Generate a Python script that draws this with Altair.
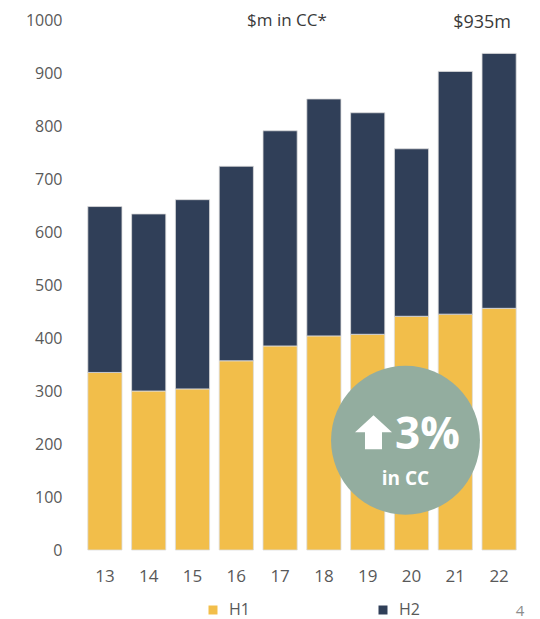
import altair as alt
import pandas as pd

years = ["13", "14", "15", "16", "17", "18", "19", "20", "21", "22"]
h1 = [335, 300, 304, 357, 385, 404, 407, 441, 445, 456]
h2 = [313, 334, 357, 367, 406, 447, 418, 316, 458, 481]
series = ["H1", "H2"]
colors = ["#F2BE4A", "#303F58"]

rows = []
for i, y in enumerate(years):
    rows.append({"year": y, "series": "H1", "value": h1[i], "ord": 0})
    rows.append({"year": y, "series": "H2", "value": h2[i], "ord": 1})
df = pd.DataFrame(rows)

FONT = "Open Sans"
GREY = "#595959"

xenc = alt.X(
    "year:N", sort=years,
    scale=alt.Scale(paddingInner=0.22, paddingOuter=0.11),
    axis=alt.Axis(title=None, labelAngle=0, ticks=False, domain=False,
                  labelPadding=18, labelFontSize=17, labelColor=GREY, labelFont=FONT),
)
yenc = alt.Y(
    "value:Q", stack="zero",
    scale=alt.Scale(domain=[0, 1000], nice=False),
    axis=alt.Axis(title=None, values=list(range(0, 1001, 100)), format="d", grid=False,
                  ticks=False, domain=False, labelPadding=21, labelFontSize=16,
                  labelColor=GREY, labelFont=FONT),
)

bars = alt.Chart(df).mark_bar(stroke="#dcdcdc", strokeWidth=0.8).encode(
    x=xenc,
    y=yenc,
    color=alt.Color(
        "series:N",
        scale=alt.Scale(domain=series, range=colors),
        legend=alt.Legend(
            title=None, orient="none", legendX=122, legendY=582, direction="horizontal",
            symbolType="square", symbolSize=81, symbolStrokeWidth=0, labelFontSize=16,
            labelColor=GREY, labelFont=FONT, labelOffset=8, columnPadding=125, padding=0,
        ),
    ),
    order=alt.Order("ord:Q", sort="ascending"),
)

badge_df = pd.DataFrame({"year": ["20"], "value": [207]})
ybadge = alt.Y("value:Q", scale=alt.Scale(domain=[0, 1000], nice=False))

circle = alt.Chart(badge_df).mark_point(
    shape="circle", filled=True, size=22167, color="#93AD9F", opacity=1, xOffset=-6
).encode(x=xenc, y=ybadge)

arrow = alt.Chart(badge_df).mark_point(
    shape="M0,-0.92L1,0L0.46,0L0.46,0.92L-0.46,0.92L-0.46,0L-1,0Z",
    filled=True, size=1369, color="white", opacity=1, xOffset=-38, yOffset=-8,
).encode(x=xenc, y=ybadge)

pct_df = pd.DataFrame({"year": ["20"], "value": [207], "t": ["3%"]})
pct = alt.Chart(pct_df).mark_text(
    font=FONT, fontWeight="bold", fontSize=44, color="white", align="center",
    baseline="alphabetic", dx=16, dy=9,
).encode(x=xenc, y=ybadge, text="t:N")

cc_df = pd.DataFrame({"year": ["20"], "value": [207], "t": ["in CC"]})
cc = alt.Chart(cc_df).mark_text(
    font=FONT, fontWeight="bold", fontSize=19, color="white", align="center",
    baseline="alphabetic", dx=-6, dy=45,
).encode(x=xenc, y=ybadge, text="t:N")

top_df = pd.DataFrame({"year": ["22"], "value": [937], "t": ["$935m"]})
top = alt.Chart(top_df).mark_text(
    font=FONT, fontSize=18, color="#3a3a3a", align="center", baseline="alphabetic",
    dx=-17, dy=-25,
).encode(x=xenc, y=ybadge, text="t:N")

title_df = pd.DataFrame({"t": ["$m in CC*"]})
title = alt.Chart(title_df).mark_text(
    font=FONT, fontSize=17, color="#3a3a3a", align="center", baseline="alphabetic",
).encode(x=alt.value(204), y=alt.value(6), text="t:N")

page_df = pd.DataFrame({"t": ["4"]})
page = alt.Chart(page_df).mark_text(
    font=FONT, fontSize=15, color="#8c8c8c", align="center", baseline="alphabetic",
).encode(x=alt.value(437), y=alt.value(596), text="t:N")

chart = alt.layer(bars, circle, arrow, pct, cc, top, title, page).properties(
    width=438, height=530,
    padding={"left": 75, "top": 12, "right": 11, "bottom": 69},
    autosize=alt.AutoSizeParams(type="none"),
).configure(font=FONT).configure_view(stroke=None, strokeWidth=0)

chart.save("out.html", embed_options={"renderer": "svg", "actions": False})
